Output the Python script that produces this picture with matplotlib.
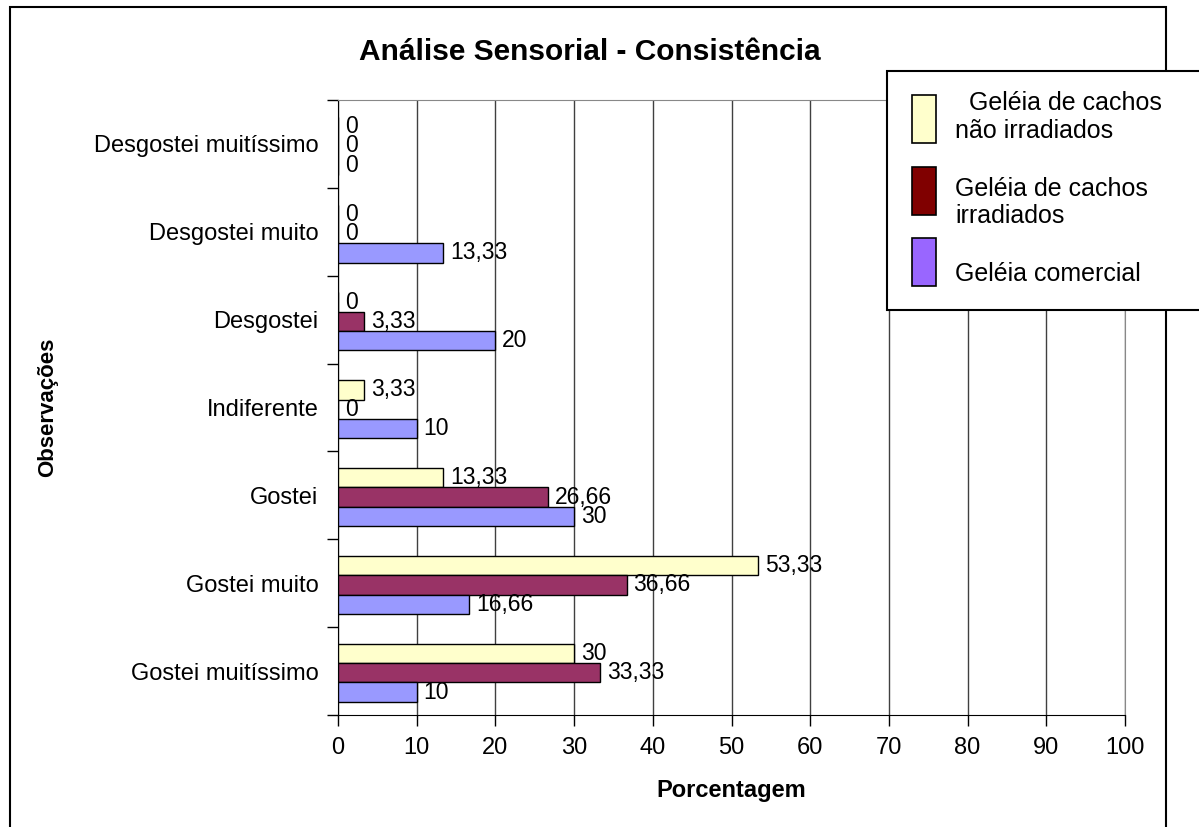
import matplotlib.pyplot as plt
from matplotlib.patches import Patch, Rectangle
import numpy as np

plt.rcParams['font.family'] = ['Liberation Sans', 'DejaVu Sans']

categorias = ['Gostei muitíssimo', 'Gostei muito', 'Gostei', 'Indiferente',
              'Desgostei', 'Desgostei muito', 'Desgostei muitíssimo']
nao_irradiados = [30, 53.33, 13.33, 3.33, 0, 0, 0]
irradiados = [33.33, 36.66, 26.66, 0, 3.33, 0, 0]
comercial = [10, 16.66, 30, 10, 20, 13.33, 0]

cores_barras = ['#FFFFCC', '#993366', '#9999FF']
cores_legenda = ['#FFFFCC', '#800000', '#9966FF']
# linhas vazias imitam o alinhamento do texto da legenda do Excel
nomes = ['  Geléia de cachos\nnão irradiados', '\nGeléia de cachos\nirradiados',
         '\nGeléia comercial']


def fmt(v):
    return ('%g' % v).replace('.', ',')


fig = plt.figure(figsize=(11.99, 8.27), dpi=100)
ax = fig.add_axes([338 / 1199, 1 - 715 / 827, 787 / 1199, 615 / 827])

y = np.arange(len(categorias))
h = 0.22
series = [nao_irradiados, irradiados, comercial]
for i, vals in enumerate(series):
    bars = ax.barh(y + (1 - i) * h - 0.02, vals, height=h, color=cores_barras[i],
                   edgecolor='black', linewidth=1, zorder=3)
    ax.bar_label(bars, labels=[fmt(v) for v in vals], padding=5, fontsize=16.5)

ax.set_xlim(0, 100)
ax.set_ylim(-0.5, len(categorias) - 0.5)
ax.set_xticks(range(0, 101, 10))
ax.set_yticks(y)
ax.set_yticklabels(categorias, fontsize=17)
ax.set_yticks(np.arange(-0.5, len(categorias)), minor=True)
ax.tick_params(axis='y', which='major', length=0, pad=14)
ax.tick_params(axis='y', which='minor', length=8, width=1, direction='out')
ax.tick_params(axis='x', labelsize=17, length=8, width=1, direction='out', pad=8)
ax.grid(axis='x', color='#404040', linewidth=1, zorder=0)
ax.set_axisbelow(True)
for s in ['top', 'right']:
    ax.spines[s].set_color('#888888')
ax.set_xlabel('Porcentagem', fontsize=17, fontweight='bold', labelpad=14)

fig.text(48 / 1199, 1 - 407 / 827, 'Observações', rotation=90, fontsize=16,
         fontweight='bold', ha='center', va='center')
fig.text(590 / 1199, 1 - 52 / 827, 'Análise Sensorial - Consistência',
         fontsize=21.5, fontweight='bold', ha='center', va='center')

# moldura externa
fig.patches.append(Rectangle((10 / 1199, -0.02), 1156 / 1199, 1 - 7 / 827 + 0.02,
                             transform=fig.transFigure, fill=False,
                             edgecolor='black', linewidth=1.5, zorder=0))
# caixa da legenda
fig.patches.append(Rectangle((887 / 1199, 1 - 310 / 827), 0.3, 239 / 827,
                             transform=fig.transFigure, facecolor='white',
                             edgecolor='black', linewidth=1.5, zorder=5))

handles = [Patch(facecolor=c, edgecolor='black', linewidth=1.2) for c in cores_legenda]
leg = fig.legend(handles, nomes, loc='upper left',
                 bbox_to_anchor=(912 / 1199, 1 - 91 / 827), frameon=False,
                 fontsize=18, borderpad=0, borderaxespad=0, handlelength=0.96,
                 handleheight=2.58, handletextpad=0.76, labelspacing=0.24)
leg.set_zorder(6)

fig.savefig('out.png', dpi=100)
